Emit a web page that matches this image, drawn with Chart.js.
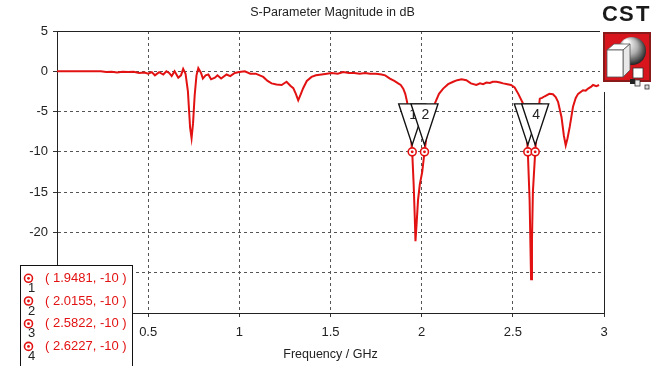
<!DOCTYPE html>
<html>
<head>
<meta charset="utf-8">
<script src="https://cdn.jsdelivr.net/npm/chart.js@4.4.0/dist/chart.umd.min.js"></script>
<style>
html,body{margin:0;padding:0;background:#fff;}
#wrap{width:665px;height:366px;}
</style>
</head>
<body>
<div id="wrap"><canvas id="sChart" width="665" height="366"></canvas></div>
<script>
// S11 magnitude (dB)
const freq = [0.00,0.10,0.20,0.24,0.27,0.30,0.33,0.36,0.39,0.42,0.45,0.48,0.50,0.52,0.537,0.56,0.583,0.60,0.615,0.629,0.645,0.665,0.68,0.692,0.705,0.718,0.73,0.738,0.746,0.755,0.765,0.775,0.79,0.80,0.815,0.83,0.845,0.866,0.88,0.90,0.93,0.95,0.975,1.00,1.03,1.06,1.09,1.131,1.155,1.177,1.204,1.232,1.259,1.28,1.296,1.31,1.323,1.336,1.35,1.37,1.396,1.42,1.451,1.48,1.506,1.54,1.57,1.60,1.63,1.66,1.69,1.716,1.75,1.78,1.80,1.826,1.85,1.871,1.885,1.899,1.91,1.92,1.935,1.9481,1.956,1.962,1.966,1.972,1.98,1.99,2.003,2.0155,2.03,2.05,2.072,2.095,2.118,2.145,2.173,2.195,2.219,2.245,2.27,2.30,2.32,2.337,2.355,2.374,2.39,2.41,2.43,2.447,2.47,2.49,2.51,2.53,2.556,2.57,2.5822,2.592,2.600,2.605,2.61,2.6227,2.635,2.648,2.66,2.675,2.70,2.72,2.735,2.748,2.767,2.78,2.79,2.80,2.812,2.83,2.845,2.858,2.885,2.90,2.913,2.93,2.94,2.958,2.973];
const s11 = [0,0,0,0,-0.1,-0.05,-0.15,-0.05,-0.1,-0.05,-0.2,-0.15,-0.3,-0.1,-0.5,-0.1,-0.4,0.0,-0.2,-0.6,0.0,-0.8,-0.5,0.3,-0.3,-2.5,-7.0,-8.3,-6.5,-3.0,-0.5,0.4,-0.2,-0.9,-0.5,-0.4,-1.0,-0.8,-0.5,-0.9,-0.4,-0.6,-0.2,-0.1,0.0,-0.3,-0.3,-0.7,-1.2,-1.5,-1.65,-1.7,-1.3,-1.8,-2.1,-2.8,-3.6,-2.9,-2.1,-1.2,-0.7,-0.5,-0.4,-0.3,-0.2,-0.3,-0.1,-0.2,-0.2,-0.3,-0.2,-0.3,-0.3,-0.4,-0.5,-0.9,-1.2,-1.5,-1.7,-2.15,-2.8,-3.8,-6.5,-10,-14,-18,-21.1,-19,-16,-14,-12.5,-10,-7.5,-5.5,-4.0,-2.8,-2.15,-1.6,-1.3,-1.1,-1.0,-1.1,-1.5,-1.7,-1.5,-1.6,-1.4,-1.45,-1.3,-1.3,-1.4,-1.5,-1.6,-1.7,-2.0,-2.8,-4.0,-5.5,-10,-16,-25.8,-21,-15,-10,-6,-3.4,-3.3,-3.1,-2.8,-2.85,-3.2,-3.8,-5.7,-8.0,-9.2,-8.3,-6.9,-4.4,-3.3,-2.8,-2.35,-2.4,-2.15,-1.9,-1.7,-1.85,-1.7];

// markers
const markerFreq = [1.9481, 2.0155, 2.5822, 2.6227];
const markerLevel = [-10, -10, -10, -10];
const markerNames = ['1', '2', '3', '4'];

// axis ticks
const xTicks = [0, 0.5, 1, 1.5, 2, 2.5, 3];
const yTicks = [5, 0, -5, -10, -15, -20, -25, -30];

const RED = 'rgb(226,18,18)';
const FONT = '"Liberation Sans", Arial, sans-serif';

function drawMarker(ctx, x, y) {
    ctx.save();
    ctx.strokeStyle = RED;
    ctx.fillStyle = '#fff';
    ctx.lineWidth = 1.6;
    ctx.beginPath();
    ctx.arc(x, y, 4, 0, Math.PI * 2);
    ctx.fill();
    ctx.stroke();
    ctx.fillStyle = RED;
    ctx.beginPath();
    ctx.arc(x, y, 1.4, 0, Math.PI * 2);
    ctx.fill();
    ctx.restore();
}

function drawLogo(ctx) {
    ctx.save();
    ctx.fillStyle = '#fff';
    ctx.fillRect(600, 0, 65, 92);
    ctx.fillStyle = '#1a1a1a';
    ctx.font = 'bold 22px ' + FONT;
    ctx.textBaseline = 'middle';
    ctx.textAlign = 'left';
    ctx.fillText('C', 602, 15);
    ctx.fillText('S', 619, 15);
    ctx.fillText('T', 636, 15);
    // red box
    ctx.fillStyle = '#8a1a1a';
    ctx.fillRect(603, 32, 48, 50);
    ctx.fillStyle = '#d8141c';
    ctx.fillRect(605, 34, 44, 46);
    // sphere
    const g = ctx.createRadialGradient(626, 42, 2, 632, 50, 15);
    g.addColorStop(0, '#ffffff');
    g.addColorStop(0.5, '#b0b0b0');
    g.addColorStop(1, '#202020');
    ctx.fillStyle = g;
    ctx.beginPath();
    ctx.arc(632, 51, 14, 0, Math.PI * 2);
    ctx.fill();
    // big cube
    ctx.fillStyle = '#fff';
    ctx.strokeStyle = '#555';
    ctx.lineWidth = 0.8;
    ctx.beginPath();
    ctx.moveTo(607, 50); ctx.lineTo(614, 44); ctx.lineTo(630, 44); ctx.lineTo(623, 50); ctx.closePath();
    ctx.fill(); ctx.stroke();
    ctx.fillStyle = '#e8e8e8';
    ctx.beginPath();
    ctx.moveTo(623, 50); ctx.lineTo(630, 44); ctx.lineTo(630, 70); ctx.lineTo(623, 77); ctx.closePath();
    ctx.fill(); ctx.stroke();
    ctx.fillStyle = '#fff';
    ctx.fillRect(607, 50, 16, 27);
    ctx.strokeRect(607, 50, 16, 27);
    // small cubes
    ctx.fillStyle = '#fff';
    ctx.strokeStyle = '#333';
    ctx.fillRect(633, 68, 10, 10);
    ctx.strokeRect(633, 68, 10, 10);
    ctx.fillStyle = '#222';
    ctx.fillRect(630, 79, 5, 5);
    ctx.fillStyle = '#eee';
    ctx.fillRect(635, 80, 5, 6);
    ctx.strokeRect(635, 80, 5, 6);
    ctx.fillStyle = '#ddd';
    ctx.fillRect(645, 85, 4, 4);
    ctx.strokeRect(645, 85, 4, 4);
    ctx.restore();
}

const overlayPlugin = {
    id: 'overlay',
    afterDatasetsDraw(chart) {
        const ctx = chart.ctx;
        const xs = chart.scales.x, ys = chart.scales.y;
        const area = chart.chartArea;
        // top frame line
        ctx.save();
        ctx.strokeStyle = '#222';
        ctx.lineWidth = 1;
        ctx.beginPath();
        ctx.moveTo(area.left, area.top + 0.5);
        ctx.lineTo(area.right, area.top + 0.5);
        ctx.stroke();
        ctx.restore();

        // marker triangles
        markerFreq.forEach((f, i) => {
            const px = xs.getPixelForValue(f);
            const py = ys.getPixelForValue(markerLevel[i]);
            const tip = py - 7, top = tip - 41, hw = 13.5;
            ctx.save();
            ctx.fillStyle = '#fff';
            ctx.strokeStyle = '#111';
            ctx.lineWidth = 1.4;
            ctx.beginPath();
            ctx.moveTo(px - hw, top);
            ctx.lineTo(px + hw, top);
            ctx.lineTo(px, tip);
            ctx.closePath();
            ctx.fill();
            ctx.stroke();
            ctx.fillStyle = '#222';
            ctx.font = '14px ' + FONT;
            ctx.textAlign = 'center';
            ctx.textBaseline = 'middle';
            ctx.fillText(markerNames[i], px + 1, top + 11);
            ctx.restore();
        });
        markerFreq.forEach((f, i) => {
            drawMarker(ctx, xs.getPixelForValue(f), ys.getPixelForValue(markerLevel[i]));
        });
    },
    afterDraw(chart) {
        const ctx = chart.ctx;
        drawLogo(ctx);
        // marker legend box
        ctx.save();
        ctx.fillStyle = '#fff';
        ctx.strokeStyle = '#111';
        ctx.lineWidth = 1;
        ctx.fillRect(20.5, 265.5, 112, 110);
        ctx.strokeRect(20.5, 265.5, 112, 110);
        markerFreq.forEach((f, i) => {
            const cy = 278.3 + 22.7 * i;
            drawMarker(ctx, 28.5, cy);
            ctx.fillStyle = RED;
            ctx.font = '13px ' + FONT;
            ctx.textAlign = 'left';
            ctx.textBaseline = 'middle';
            ctx.fillText('( ' + f.toFixed(4) + ', ' + markerLevel[i] + ' )', 45, cy);
            ctx.fillStyle = '#222';
            ctx.font = '13px ' + FONT;
            ctx.textAlign = 'center';
            ctx.fillText(markerNames[i], 31.5, cy + 10);
        });
        ctx.restore();
    }
};

const points = freq.map((f, i) => ({ x: f, y: s11[i] }));

new Chart(document.getElementById('sChart').getContext('2d'), {
    type: 'line',
    data: {
        datasets: [{
            label: 'S1,1',
            data: points,
            borderColor: RED,
            borderWidth: 2,
            pointRadius: 0,
            tension: 0,
            yAxisID: 'y'
        }]
    },
    options: {
        responsive: false,
        animation: false,
        devicePixelRatio: 1,
        layout: { padding: 0 },
        plugins: {
            legend: { display: false },
            tooltip: { enabled: false },
            title: {
                display: true,
                text: 'S-Parameter Magnitude in dB',
                color: '#222',
                font: { family: FONT, size: 12.5, weight: 'normal' },
                padding: { top: 5, bottom: 11 }
            }
        },
        scales: {
            x: {
                type: 'linear',
                min: 0, max: 3,
                afterBuildTicks: s => { s.ticks = xTicks.map(v => ({ value: v })); },
                afterFit: s => { s.height = 53; },
                ticks: {
                    color: '#222',
                    font: { family: FONT, size: 13 },
                    padding: 8,
                    maxRotation: 0,
                    callback: v => String(v)
                },
                grid: {
                    color: '#555',
                    tickBorderDash: [],
                    tickColor: '#333',
                    tickLength: 4
                },
                // in v4 border.dash sets the dash of the grid lines
                border: { display: true, color: '#222', width: 1, dash: [3, 3] },
                title: {
                    display: true,
                    text: 'Frequency / GHz',
                    color: '#222',
                    font: { family: FONT, size: 12.5 },
                    padding: { top: 0, bottom: 4 }
                }
            },
            y: {
                type: 'linear',
                min: -30, max: 5,
                afterBuildTicks: s => { s.ticks = yTicks.map(v => ({ value: v })); },
                afterFit: s => { s.width = 57; },
                ticks: {
                    color: '#222',
                    font: { family: FONT, size: 13 },
                    padding: 5,
                    callback: v => String(v)
                },
                grid: {
                    color: '#555',
                    tickBorderDash: [],
                    tickColor: '#333',
                    tickLength: 4
                },
                border: { display: true, color: '#222', width: 1, dash: [3, 3] }
            },
            yRight: {
                type: 'linear',
                position: 'right',
                min: -30, max: 5,
                afterFit: s => { s.width = 61; },
                ticks: { display: false },
                grid: { display: false },
                border: { display: true, color: '#222', width: 1 }
            }
        }
    },
    plugins: [overlayPlugin]
});
</script>
</body>
</html>
